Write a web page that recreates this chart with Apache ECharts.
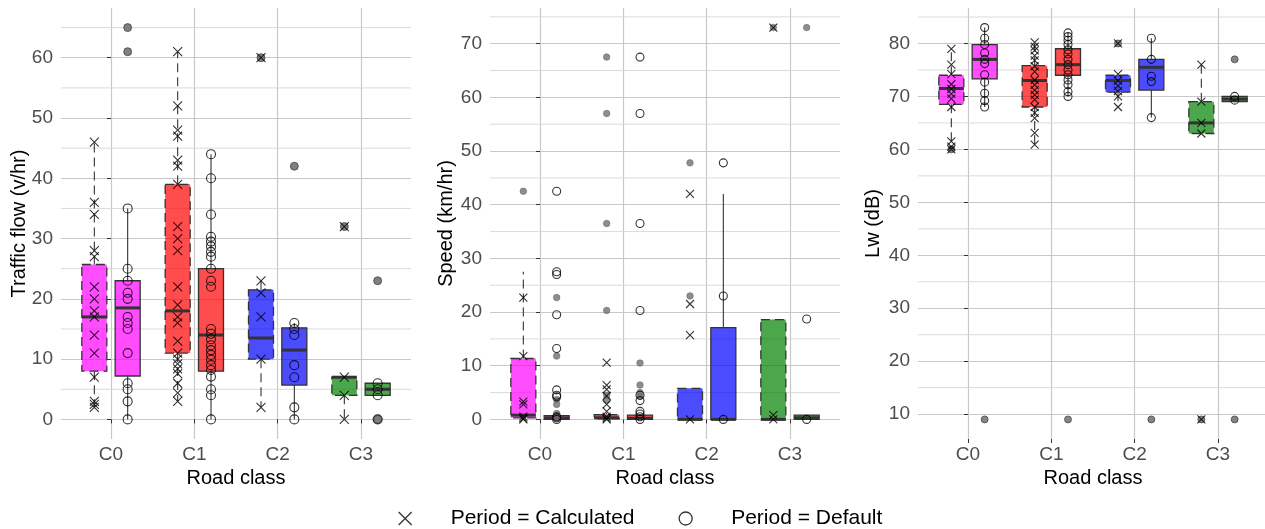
<!DOCTYPE html>
<html><head><meta charset="utf-8">
<script src="https://cdn.jsdelivr.net/npm/echarts@6/dist/echarts.min.js"></script>
<style>html,body{margin:0;padding:0;background:#fff}#c{width:1265px;height:529px}</style>
</head><body><div id="c"></div>
<script>
const categories = ['C0', 'C1', 'C2', 'C3'];
const periods = ['Period = Calculated', 'Period = Default'];

// ---- Traffic flow (v/hr) ----  box = [lowerWhisker, Q1, median, Q3, upperWhisker]
const flowTicks = [0, 10, 20, 30, 40, 50, 60];
const flowCalcBox = [[2, 8, 17, 25.7, 46], [3, 11, 18, 39, 61], [2, 10, 13.5, 21.5, 23], [0, 4, 7, 7, 7]];
const flowDefBox = [[0, 7.2, 18.5, 23, 35], [0, 8, 14, 25, 44], [0, 5.7, 11.5, 15.2, 16], [4, 4, 5, 6, 6]];
const flowCalcPts = [
  [46, 36, 34, 28, 27, 22, 20, 18, 17, 14, 11, 7, 3, 2.5, 2],
  [61, 52, 48, 47, 43, 42, 39, 32, 30, 28, 22, 19, 17, 16, 13, 11, 10, 9.2, 8.4, 7.6, 6, 4.4, 3],
  [60, 23, 21, 17, 10, 2],
  [32, 7, 4, 0]
];
const flowDefPts = [
  [35, 25, 23, 21, 20, 17, 16, 15, 11, 6, 5, 3, 0],
  [44, 40, 34, 30.3, 29.5, 28.7, 27.8, 27, 25, 23, 22, 15, 14.2, 13.3, 12.3, 11.5, 10.7, 9.9, 9, 8.2, 7.1, 5, 4, 0],
  [16, 15, 14, 9, 7, 2, 0],
  [6, 5, 4, 0]
];
const flowCalcOut = [[], [], [60], [32]];
const flowDefOut = [[65, 61], [], [42], [23, 0]];

// ---- Speed (km/hr) ----
const speedTicks = [0, 10, 20, 30, 40, 50, 60, 70];
const speedCalcBox = [[0, 0.3, 0.8, 11.35, 27.5], [0, 0.1, 0.3, 0.9, 1.2], [0, 0, 0, 5.8, 5.8], [0, 0, 0, 18.6, 18.6]];
const speedDefBox = [[0, 0, 0.3, 0.7, 1], [0, 0, 0.2, 0.8, 1], [0, 0, 0, 17.1, 42], [0, 0, 0.3, 0.8, 0.8]];
const speedCalcPts = [
  [22.7, 11.8, 3.3, 2.8, 0.5, 0.2, 0],
  [10.6, 6.4, 5.6, 4.4, 2.8, 1.5, 0.5, 0.2, 0],
  [42, 21.5, 15.7, 0],
  [73, 0.8, 0]
];
const speedDefPts = [
  [42.5, 27.5, 27, 19.5, 13.2, 5.5, 4.5, 4.2, 0.5, 0.3, 0],
  [67.5, 57, 36.5, 20.3, 4.5, 3.5, 1.5, 1, 0.5, 0],
  [47.8, 23, 0],
  [18.7, 0]
];
const speedCalcOut = [[42.5], [67.5, 57, 36.5, 20.3, 4.5, 3.6], [47.8, 23], [73]];
const speedDefOut = [[22.7, 11.8, 3.7, 2.8, 1.1, 0.5], [10.5, 6.4, 5, 4.3], [], [73]];

// ---- Lw (dB) ----
const lwTicks = [10, 20, 30, 40, 50, 60, 70, 80];
const lwCalcBox = [[60, 68.5, 71.5, 74, 79], [61, 68, 73, 75.8, 80], [68, 70.8, 73, 74, 74], [63, 63, 65, 69, 76]];
const lwDefBox = [[68, 73.3, 77, 79.8, 83], [70, 74, 76, 79, 82], [66, 71.2, 75.5, 77, 81], [69, 69, 69.5, 70, 70]];
const lwCalcPts = [
  [79, 76, 74.2, 72.3, 71.4, 70.5, 69.6, 68, 61.5, 60.5, 60],
  [80.2, 79.4, 78.7, 77.7, 76.8, 75.7, 74.7, 73.1, 72.2, 71.2, 70.3, 69.4, 68, 66.9, 65.9, 63.1, 60.9],
  [80, 74.2, 73, 72, 71, 70, 68],
  [76, 69, 65, 63, 9]
];
const lwDefPts = [
  [83, 81, 79.8, 78.2, 77, 76.2, 74.1, 72.7, 70.6, 69.2, 68],
  [82, 81.3, 80.6, 79.8, 78.8, 78, 77, 76, 75, 74.1, 73.1, 72.2, 70.9, 70],
  [81, 77, 73.8, 72.8, 66],
  [70, 69.3]
];
const lwCalcOut = [[60], [], [80], [9]];
const lwDefOut = [[9], [9], [9], [77, 9]];

// ---------------- styling & building ----------------
const classFills = ['rgba(255,0,255,0.7)', 'rgba(255,0,0,0.7)', 'rgba(0,0,255,0.7)', 'rgba(0,128,0,0.7)'];
const FONT = 'Liberation Sans, Arial, Helvetica, sans-serif';
const X_PATH = 'path://M0,0L10,10M10,0L0,10';
const DODGE = 0.2, BOXW = 0.3;

const panels = [
  { title: 'Traffic flow (v/hr)', ticks: flowTicks, calcBox: flowCalcBox, defBox: flowDefBox,
    calcPts: flowCalcPts, defPts: flowDefPts, calcOut: flowCalcOut, defOut: flowDefOut,
    left: 61, nameGap: 32, ptSize: 9, outSize: 8, outColor: '#606060', outBorder: '#2e2e2e' },
  { title: 'Speed (km/hr)', ticks: speedTicks, calcBox: speedCalcBox, defBox: speedDefBox,
    calcPts: speedCalcPts, defPts: speedDefPts, calcOut: speedCalcOut, defOut: speedDefOut,
    left: 490, nameGap: 34, ptSize: 8, outSize: 6.5, outColor: '#707070', outBorder: '#707070' },
  { title: 'Lw (dB)', ticks: lwTicks, calcBox: lwCalcBox, defBox: lwDefBox,
    calcPts: lwCalcPts, defPts: lwDefPts, calcOut: lwCalcOut, defOut: lwDefOut,
    left: 918, nameGap: 35, ptSize: 8, outSize: 7, outColor: '#666666', outBorder: '#333333' }
];

function flat(arrs) { return arrs.reduce((a, b) => a.concat(b), []); }
function toPts(arrs, off) {
  const out = [];
  arrs.forEach((vals, i) => vals.forEach(v => out.push([i + off, v])));
  return out;
}

function renderBox(params, api) {
  const ci = api.value(0), off = api.value(1);
  const x = ci + off;
  const lo = api.value(2), q1 = api.value(3), med = api.value(4), q3 = api.value(5), hi = api.value(6);
  const dashed = api.value(7) === 1;
  const w = api.size([BOXW, 0])[0];
  const pLo = api.coord([x, lo]), pQ1 = api.coord([x, q1]), pMed = api.coord([x, med]);
  const pQ3 = api.coord([x, q3]), pHi = api.coord([x, hi]);
  const cx = pQ1[0], L = cx - w / 2;
  const dash = dashed ? [9, 5] : null;
  const stroke = '#333333';
  const children = [];
  if (hi > q3) children.push({ type: 'line', shape: { x1: cx, y1: pQ3[1], x2: cx, y2: pHi[1] }, style: { stroke, lineWidth: 1.1, lineDash: dash } });
  if (lo < q1) children.push({ type: 'line', shape: { x1: cx, y1: pQ1[1], x2: cx, y2: pLo[1] }, style: { stroke, lineWidth: 1.1, lineDash: dash } });
  children.push({ type: 'rect', shape: { x: L, y: pQ3[1], width: w, height: Math.max(pQ1[1] - pQ3[1], 0.5) },
    style: { fill: classFills[ci], stroke, lineWidth: 1.3, lineDash: dash } });
  children.push({ type: 'line', shape: { x1: L, y1: pMed[1], x2: L + w, y2: pMed[1] }, style: { stroke, lineWidth: 3 } });
  return { type: 'group', children };
}

function renderMinor(params, api) {
  const v = api.value(0);
  const cs = params.coordSys;
  const p = api.coord([0, v]);
  return { type: 'line', shape: { x1: cs.x, y1: p[1], x2: cs.x + cs.width, y2: p[1] },
    style: { stroke: '#d6d6d6', lineWidth: 0.9 } };
}

const grids = [], xAxes = [], yAxes = [], series = [];
panels.forEach((p, i) => {
  const all = flat(p.calcPts).concat(flat(p.defPts), flat(p.calcOut), flat(p.defOut),
    flat(p.calcBox), flat(p.defBox));
  const dMin = Math.min(...all), dMax = Math.max(...all);
  const pad = (dMax - dMin) * 0.05;
  const yMin = dMin - pad, yMax = dMax + pad;
  const step = p.ticks[1] - p.ticks[0];
  const minor = [];
  for (let v = p.ticks[0] - step / 2; v <= yMax; v += step) if (v >= yMin) minor.push([v]);

  grids.push({ left: p.left, top: 8, width: 350, height: 431, outerBoundsMode: 'none', containLabel: false });
  xAxes.push({
    type: 'value', gridIndex: i, min: -0.6, max: 3.6,
    axisLine: { show: false },
    axisTick: { show: true, customValues: [0, 1, 2, 3], length: 4, lineStyle: { color: '#333', width: 1 } },
    axisLabel: { customValues: [0, 1, 2, 3], formatter: v => categories[Math.round(v)] || '',
      fontSize: 19, color: '#4d4d4d', fontFamily: FONT, margin: 6 },
    splitLine: { show: true, lineStyle: { color: '#c8c8c8', width: 1.2 } },
    name: 'Road class', nameLocation: 'middle', nameGap: 29, nameMoveOverlap: false,
    nameTextStyle: { fontSize: 20, color: '#000', fontFamily: FONT }
  });
  yAxes.push({
    type: 'value', gridIndex: i, min: yMin, max: yMax,
    axisLine: { show: false },
    axisTick: { show: true, customValues: p.ticks, length: 4, lineStyle: { color: '#333', width: 1 } },
    axisLabel: { customValues: p.ticks, fontSize: 19, color: '#4d4d4d', fontFamily: FONT, margin: 8 },
    splitLine: { show: true, lineStyle: { color: '#c8c8c8', width: 1.2 } },
    name: p.title, nameLocation: 'middle', nameRotate: 90, nameGap: p.nameGap, nameMoveOverlap: false,
    nameTextStyle: { fontSize: 20, color: '#000', fontFamily: FONT }
  });

  series.push({ type: 'custom', xAxisIndex: i, yAxisIndex: i, z: 1, silent: true,
    renderItem: renderMinor, data: minor, clip: false });

  const boxData = [];
  p.calcBox.forEach((b, ci) => boxData.push([ci, -DODGE].concat(b, [1])));
  p.defBox.forEach((b, ci) => boxData.push([ci, DODGE].concat(b, [0])));
  series.push({ type: 'custom', xAxisIndex: i, yAxisIndex: i, z: 2, silent: true,
    renderItem: renderBox, data: boxData, encode: { x: 0, y: [2, 3, 4, 5, 6] } });

  const outStyle = { color: p.outColor, borderColor: p.outBorder, borderWidth: 0.8 };
  series.push({ type: 'scatter', xAxisIndex: i, yAxisIndex: i, z: 3, silent: true,
    symbol: 'circle', symbolSize: p.outSize, itemStyle: outStyle,
    data: toPts(p.calcOut, -DODGE).concat(toPts(p.defOut, DODGE)) });

  series.push({ name: periods[0], type: 'scatter', xAxisIndex: i, yAxisIndex: i, z: 4, silent: true,
    symbol: X_PATH, symbolSize: p.ptSize,
    itemStyle: { color: 'transparent', borderColor: '#000', borderWidth: 1.1 },
    data: toPts(p.calcPts, -DODGE) });
  series.push({ name: periods[1], type: 'scatter', xAxisIndex: i, yAxisIndex: i, z: 4, silent: true,
    symbol: 'circle', symbolSize: p.ptSize,
    itemStyle: { color: 'transparent', borderColor: '#000', borderWidth: 1.1 },
    data: toPts(p.defPts, DODGE) });
});

const chart = echarts.init(document.getElementById('c'), null, { renderer: 'canvas' });
chart.setOption({
  animation: false,
  backgroundColor: '#fff',
  textStyle: { fontFamily: FONT },
  grid: grids, xAxis: xAxes, yAxis: yAxes, series,
  legend: {
    left: 393, top: 503, itemWidth: 13, itemHeight: 13, itemGap: 44, selectedMode: false,
    textStyle: { fontSize: 21, color: '#000', fontFamily: FONT, padding: [0, 0, 0, 34] },
    data: [
      { name: periods[0], icon: X_PATH, itemStyle: { color: 'transparent', borderColor: '#000', borderWidth: 1.3 } },
      { name: periods[1], icon: 'circle', itemStyle: { color: 'transparent', borderColor: '#000', borderWidth: 1.3 } }
    ]
  }
});
</script></body></html>
